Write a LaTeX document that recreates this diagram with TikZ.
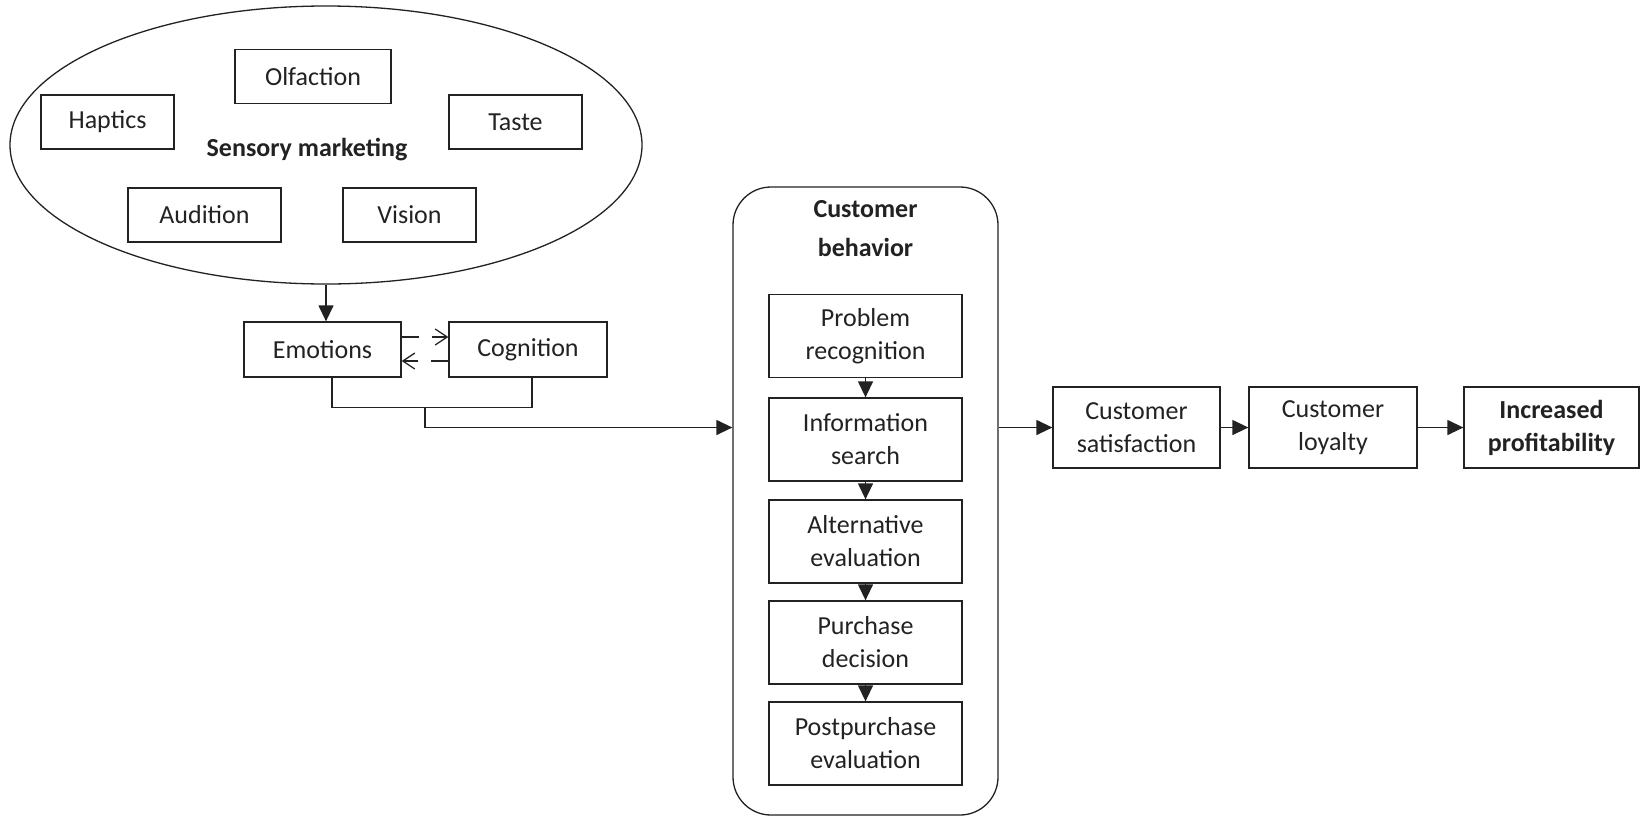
\documentclass[tikz,border=0pt]{standalone}
\usepackage{fontspec}
\setmainfont{Carlito}
\usetikzlibrary{shapes.geometric, arrows.meta, calc}
\definecolor{ink}{HTML}{222222}

\begin{document}
\begin{tikzpicture}[x=1pt, y=-1pt,
  every node/.style={font=\fontsize{26}{33}\selectfont, text=ink, align=center, inner sep=0pt},
  box/.style={draw=ink, line width=1.3pt, minimum height=54pt},
  tall/.style={box, minimum width=193pt, minimum height=83pt},
  wide/.style={box, minimum height=81pt},
  link/.style={draw=ink, line width=1.3pt},
  arr/.style={link, -{Triangle[length=16pt, width=15pt]}},
  dasharr/.style={link, dash pattern=on 17pt off 13pt, -{Straight Barb[length=12pt, width=16pt]}},
  boldtext/.style={font=\fontsize{26}{39}\selectfont\bfseries}
]
\useasboundingbox (0,0) rectangle (1640,817);

% sensory marketing cluster
\node[draw=ink, line width=1.3pt, ellipse, minimum width=632pt, minimum height=278pt] (sm) at (326,145) {};
\node[boldtext] (smt) at (307,150) {Sensory marketing};
\node[box, minimum width=156pt] (olf) at (313,76.5) {Olfaction};
\node[box, minimum width=133pt] (hap) at (107.5,122) {Haptics};
\node[box, minimum width=133pt] (tas) at (515.5,122) {Taste};
\node[box, minimum width=153pt] (aud) at (204.5,215) {Audition};
\node[box, minimum width=133pt] (vis) at (409.5,215) {Vision};

% emotions and cognition
\node[box, minimum width=157pt, minimum height=55pt] (emo) at (322.5,349.5) {Emotions};
\node[box, minimum width=158pt, minimum height=55pt] (cog) at (528,349.5) {Cognition};

\draw[arr] (sm.south) -- (sm.south |- emo.north);
\draw[dasharr] ([yshift=12.5pt]emo.east) -- ([yshift=12.5pt]cog.west);
\draw[dasharr] ([yshift=-11.5pt]cog.west) -- ([yshift=-11.5pt]emo.east);

% customer behavior process
\node[draw=ink, line width=1.3pt, rounded corners=38pt, minimum width=265pt, minimum height=628pt] (cb) at (865.5,501) {};
\node[boldtext] (cbt) at (865.5,229) {Customer\\behavior};
\node[tall] (p1) at (865.5,336) {Problem\\recognition};
\node[tall] (p2) at (865.5,439.5) {Information\\search};
\node[tall] (p3) at (865.5,541.5) {Alternative\\evaluation};
\node[tall] (p4) at (865.5,642.5) {Purchase\\decision};
\node[tall] (p5) at (865.5,743.5) {Postpurchase\\evaluation};
\draw[arr] (p1) -- (p2);
\draw[arr] (p2) -- (p3);
\draw[arr] (p3) -- (p4);
\draw[arr] (p4) -- (p5);

% outcomes
\node[wide, minimum width=167pt] (cs) at (1136.5,427.5) {Customer\\satisfaction};
\node[wide, minimum width=168pt] (loy) at (1333,427.5) {Customer\\loyalty};
\node[wide, minimum width=175pt, font=\fontsize{26}{33}\selectfont\bfseries] (prof) at (1551.5,427.5) {Increased\\profitability};

% joint link from emotions and cognition into customer behavior
\draw[link] ([xshift=9.5pt]emo.south) -- ++(0,30) -| ([xshift=4pt]cog.south);
\coordinate (jn) at (425,407);
\draw[arr] (jn) |- (cs.west -| cb.west);

\draw[arr] (cs.west -| cb.east) -- (cs.west);
\draw[arr] (cs) -- (loy);
\draw[arr] (loy) -- (prof);
\end{tikzpicture}
\end{document}
